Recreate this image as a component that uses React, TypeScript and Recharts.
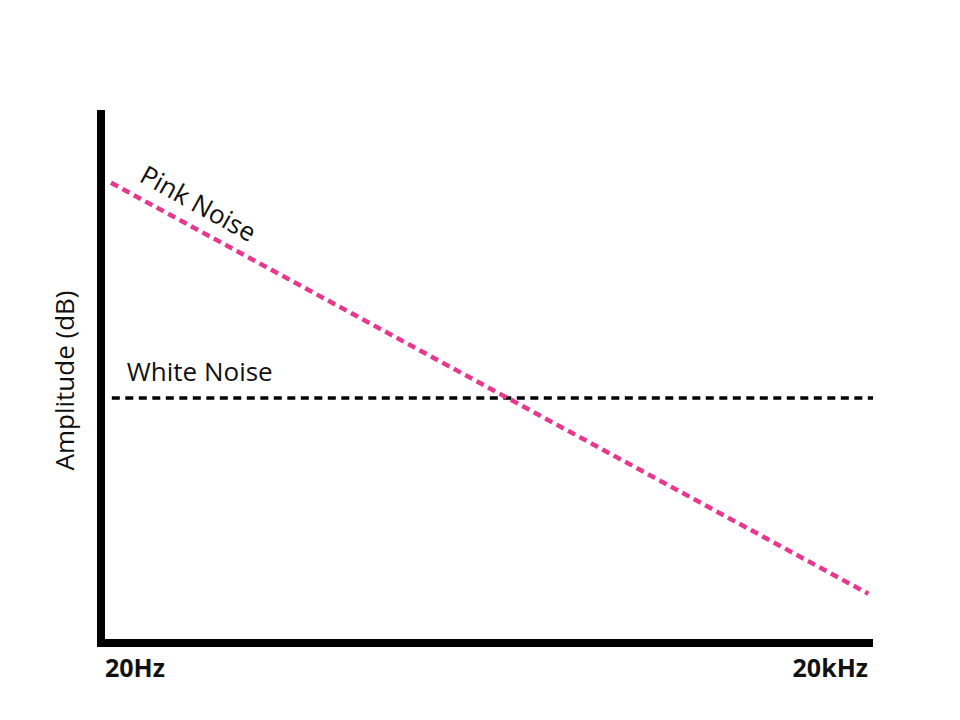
import { LineChart, Line, XAxis, YAxis, LabelList } from 'recharts';

// x is position along the log-frequency axis (0 = 20Hz, 100 = 20kHz), y is relative amplitude
const pinkFreq = [1.3, 99.4];
const pinkLevel = [87.0, 9.3];
const whiteFreq = [1.4, 100];
const whiteLevel = [46.3, 46.3];
const freqTicks = [0, 100];
const freqLabels = ['20Hz', '20kHz'];

const pinkData = pinkFreq.map((x, i) => ({ x, y: pinkLevel[i] }));
const whiteData = whiteFreq.map((x, i) => ({ x, y: whiteLevel[i] }));

const FONT = '"Open Sans", sans-serif';

function FreqTick(props: any) {
  const { x, y, payload } = props;
  const first = payload.value === freqTicks[0];
  const label = freqLabels[freqTicks.indexOf(payload.value)];
  return (
    <text
      x={first ? x + 4 : x - 5}
      y={y + 26}
      textAnchor={first ? 'start' : 'end'}
      fontFamily={FONT}
      fontWeight={700}
      fontSize={25}
      fill="#111"
    >
      {label}
    </text>
  );
}

function pinkLabel(props: any) {
  const { x, y, index } = props;
  if (index !== 0) return null;
  const tx = x + 27;
  const ty = y - 2;
  return (
    <text x={tx} y={ty} transform={`rotate(29, ${tx}, ${ty})`} fontFamily={FONT} fontSize={26} fill="#111">
      Pink Noise
    </text>
  );
}

function whiteLabel(props: any) {
  const { x, y, index } = props;
  if (index !== 0) return null;
  return (
    <text x={x + 15} y={y - 17} fontFamily={FONT} fontSize={26} fill="#111">
      White Noise
    </text>
  );
}

function AmpLabel(props: any) {
  const { viewBox } = props;
  const cx = viewBox.x + 74;
  const cy = viewBox.y + viewBox.height / 2 + 2;
  return (
    <text x={cx} y={cy} transform={`rotate(-90, ${cx}, ${cy})`} textAnchor="middle" fontFamily={FONT} fontSize={26} fill="#111">
      Amplitude (dB)
    </text>
  );
}

export default function App() {
  return (
    <div style={{ position: 'absolute', left: 0, top: 0, width: 960, height: 720, background: '#fff' }}>
      <LineChart width={960} height={720} margin={{ top: 114, right: 87, left: 0, bottom: 17 }}>
        <XAxis
          dataKey="x"
          type="number"
          domain={[0, 100]}
          ticks={freqTicks}
          height={60}
          tickLine={false}
          axisLine={{ stroke: '#000', strokeWidth: 8 }}
          tick={<FreqTick />}
          allowDataOverflow
        />
        <YAxis
          dataKey="y"
          type="number"
          domain={[0, 100]}
          width={101}
          tick={false}
          tickLine={false}
          axisLine={{ stroke: '#000', strokeWidth: 8, strokeLinecap: 'square' }}
          label={{ content: <AmpLabel /> }}
          allowDataOverflow
        />
        <Line
          data={whiteData}
          dataKey="y"
          stroke="#000"
          strokeWidth={3.5}
          strokeDasharray="8 5.5"
          dot={false}
          isAnimationActive={false}
        >
          <LabelList dataKey="y" content={whiteLabel} />
        </Line>
        <Line
          data={pinkData}
          dataKey="y"
          stroke="#e8388e"
          strokeWidth={4.5}
          strokeDasharray="8 5"
          dot={false}
          isAnimationActive={false}
        >
          <LabelList dataKey="y" content={pinkLabel} />
        </Line>
      </LineChart>
    </div>
  );
}
